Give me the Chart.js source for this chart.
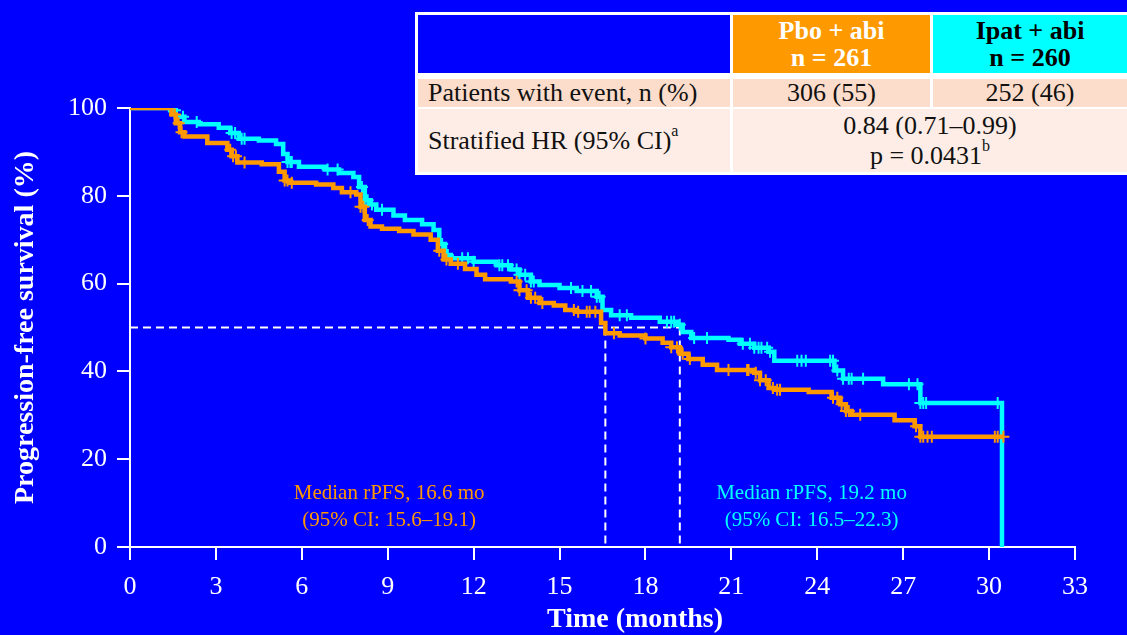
<!DOCTYPE html>
<html>
<head>
<meta charset="utf-8">
<script src="https://cdn.jsdelivr.net/npm/chart.js@4.4.1/dist/chart.umd.min.js"></script>
<style>
  html, body { margin: 0; padding: 0; background: #0000ff; width: 1127px; height: 635px; overflow: hidden; }
  #wrap { position: relative; width: 1127px; height: 635px; }
  #chart { position: absolute; left: 0; top: 0; }
  .frame { position: absolute; left: 415px; top: 12px; width: 712px; height: 163px; background: #fff; }
  .cell {
    position: absolute; box-sizing: border-box; display: flex; flex-direction: column; justify-content: center;
    font-family: 'Liberation Serif', 'Times New Roman', serif; color: #111; font-size: 26px; line-height: 30px;
    white-space: nowrap;
  }
  .head { font-weight: bold; font-size: 26px; text-align: center; line-height: 27px; }
  .mid { text-align: center; }
  .left { padding-left: 10px; }
  sup { font-size: 16px; line-height: 0; position: relative; top: -3px; }
</style>
</head>
<body>
<div id="wrap">
  <canvas id="chart" width="1127" height="635"></canvas>
  <div class="frame"></div>
  <div class="cell" style="left:418px;top:15px;width:312px;height:58px;background:#0000ff;"></div>
  <div class="cell head" style="left:733px;top:15px;width:197px;height:58px;background:#ff9900;color:#fff;">
    <div>Pbo + abi</div><div>n = 261</div>
  </div>
  <div class="cell head" style="left:933px;top:15px;width:194px;height:58px;background:#00ffff;color:#000;">
    <div>Ipat + abi</div><div>n = 260</div>
  </div>
  <div class="cell left" style="left:418px;top:79px;width:312px;height:28px;background:#fcdccb;">Patients with event, n (%)</div>
  <div class="cell mid" style="left:733px;top:79px;width:197px;height:28px;background:#fcdccb;">306 (55)</div>
  <div class="cell mid" style="left:933px;top:79px;width:194px;height:28px;background:#fcdccb;">252 (46)</div>
  <div class="cell left" style="left:418px;top:109px;width:312px;height:63px;background:#fdede6;">
    <div>Stratified HR (95% CI)<sup>a</sup></div>
  </div>
  <div class="cell mid" style="left:733px;top:109px;width:394px;height:63px;background:#fdede6;">
    <div>0.84 (0.71–0.99)</div><div>p = 0.0431<sup>b</sup></div>
  </div>
</div>
<script>
// Kaplan-Meier steps (months, % progression-free)
const pboTime = [0, 1.45, 1.6, 1.75, 1.9, 2.7, 3.4, 3.55, 3.75, 4.6, 5.2, 5.4, 5.6, 6.5, 7.1, 7.4, 7.9, 8.05, 8.2, 8.4, 8.8, 9.4, 9.9, 10.5, 10.75, 10.95, 11.2, 11.7, 12.1, 12.4, 13.3, 13.6, 13.9, 14.3, 14.8, 15.2, 15.6, 16.45, 16.6, 17.1, 18.0, 18.6, 18.9, 19.2, 19.5, 20.0, 20.5, 21.8, 22.0, 22.3, 22.5, 23.7, 24.5, 24.8, 25.0, 25.2, 26.7, 27.4, 27.6, 30.5];
const pboSurv = [100, 98.5, 96.5, 94.5, 93.5, 92, 90.5, 89, 87.6, 87.2, 85.5, 83.5, 83, 82.6, 81.8, 80.8, 80.3, 77.5, 74.5, 73, 72.5, 72, 71.2, 70, 67.5, 65.5, 64.5, 63.3, 62, 61, 60.5, 58.5, 56.8, 55.6, 55, 54, 53.6, 51, 48.7, 48.2, 47.5, 46.5, 45.5, 44, 42.8, 41.5, 40.3, 39.7, 38, 36.2, 35.8, 35.3, 34, 32.5, 31, 30.1, 28.9, 27.5, 25.1, 25.1];

const ipatTime = [0, 1.4, 1.6, 1.9, 2.4, 3.1, 3.5, 3.8, 4.5, 5.1, 5.35, 5.5, 5.9, 6.8, 7.3, 7.8, 8.0, 8.2, 8.4, 8.6, 9.2, 9.6, 10.2, 10.6, 10.8, 11.0, 11.2, 12.0, 12.8, 13.3, 13.6, 14.0, 14.3, 15.0, 15.6, 16.3, 16.5, 16.8, 17.5, 18.5, 19.1, 19.3, 19.6, 20.9, 21.3, 21.8, 22.3, 22.5, 24.6, 24.9, 26.3, 27.6, 30.45];
const ipatSurv = [100, 99.5, 98, 96.8, 96.3, 95.5, 94.3, 93, 92.6, 91.8, 89.5, 87.7, 86.6, 86, 85.2, 84.3, 82, 79, 78, 76.8, 75.5, 74.5, 73.5, 72.2, 69, 66.5, 65.8, 65, 64.2, 63.2, 62, 60.5, 59.7, 59, 58.3, 57, 54, 52.8, 52.2, 51.3, 50.6, 49, 47.6, 47.2, 46.3, 45.4, 44.5, 42.4, 40.2, 38.3, 37.1, 32.8, 0];

// censoring times (months)
const pboCensor = [1.57, 1.7, 1.8, 3.5, 3.6, 3.7, 4.0, 5.4, 5.5, 5.65, 7.7, 8.05, 8.15, 8.3, 10.8, 11.05, 11.45, 13.5, 13.6, 13.85, 14.0, 14.15, 14.4, 15.5, 15.65, 15.95, 16.05, 16.25, 16.9, 18.0, 18.9, 19.1, 19.3, 19.55, 20.9, 21.55, 21.6, 21.85, 22.0, 22.2, 22.45, 22.6, 22.7, 24.55, 24.7, 24.85, 25.0, 25.1, 25.5, 27.45, 27.6, 27.7, 27.85, 28.0, 30.2, 30.3, 30.5];
const ipatCensor = [1.57, 1.85, 2.33, 3.55, 3.67, 3.9, 4.0, 5.5, 5.6, 5.65, 6.9, 7.25, 8.1, 8.2, 8.3, 8.45, 8.8, 10.9, 11.1, 11.6, 11.8, 12.0, 12.9, 13.0, 13.2, 13.5, 13.6, 13.8, 14.0, 14.1, 15.4, 15.8, 16.1, 16.3, 16.4, 17.1, 17.35, 18.75, 18.9, 19.0, 19.2, 19.7, 20.15, 21.4, 21.65, 21.8, 21.95, 22.05, 22.25, 22.35, 23.3, 23.45, 23.6, 24.45, 24.55, 24.7, 24.9, 25.1, 25.2, 25.6, 27.2, 27.5, 27.6, 27.7, 27.8, 30.3];

const medianTimes = [16.6, 19.2];
const medianLevel = 50;
const medianText = [
  ['Median rPFS, 16.6 mo', '(95% CI: 15.6–19.1)'],
  ['Median rPFS, 19.2 mo', '(95% CI: 16.5–22.3)']
];

const xTickValues = [0, 3, 6, 9, 12, 15, 18, 21, 24, 27, 30, 33];
const yTickValues = [0, 20, 40, 60, 80, 100];

const ORANGE = '#ff9900';
const CYAN = '#00ffff';
const SERIF = "'Liberation Serif', 'Times New Roman', serif";

function toPoints(times, surv) {
  return times.map((t, i) => ({ x: t, y: surv[i] }));
}

// survival value at time t (step function)
function survAt(times, surv, t) {
  let v = surv[0];
  for (let i = 0; i < times.length; i++) {
    if (times[i] <= t) v = surv[i];
  }
  return v;
}

function censorPoints(censor, times, surv) {
  return censor.map(t => ({ x: t, y: survAt(times, surv, t) }));
}

const dashStyle = { borderColor: '#fff', borderWidth: 2, borderDash: [8, 5], pointRadius: 0, showLine: true, fill: false, order: 5 };

const annotations = {
  id: 'annotations',
  afterDatasetsDraw(chart) {
    const { ctx, scales: { x } } = chart;
    ctx.save();
    ctx.textAlign = 'center';
    ctx.textBaseline = 'middle';
    ctx.font = '21px ' + SERIF;
    const labelX = [9.05, 23.8];
    const colors = [ORANGE, CYAN];
    medianText.forEach((lines, i) => {
      ctx.fillStyle = colors[i];
      ctx.fillText(lines[0], x.getPixelForValue(labelX[i]), 493);
      ctx.fillText(lines[1], x.getPixelForValue(labelX[i]), 520);
    });
    // x axis title
    ctx.fillStyle = '#fff';
    ctx.font = 'bold 28px ' + SERIF;
    ctx.fillText('Time (months)', 635, 620);
    ctx.restore();
  }
};

new Chart(document.getElementById('chart'), {
  type: 'scatter',
  data: {
    datasets: [
      {
        label: 'Pbo + abi censored',
        data: censorPoints(pboCensor, pboTime, pboSurv),
        pointStyle: 'cross', pointRadius: 6, borderColor: ORANGE, borderWidth: 2, order: 1
      },
      {
        label: 'Pbo + abi',
        data: toPoints(pboTime, pboSurv),
        showLine: true, stepped: true, borderColor: ORANGE, borderWidth: 4.5, pointRadius: 0, order: 2
      },
      {
        label: 'Ipat + abi censored',
        data: censorPoints(ipatCensor, ipatTime, ipatSurv),
        pointStyle: 'cross', pointRadius: 6, borderColor: CYAN, borderWidth: 2, order: 3
      },
      {
        label: 'Ipat + abi',
        data: toPoints(ipatTime, ipatSurv),
        showLine: true, stepped: true, borderColor: CYAN, borderWidth: 4.5, pointRadius: 0, order: 4
      },
      { ...dashStyle, data: [{ x: 0, y: medianLevel }, { x: medianTimes[1], y: medianLevel }] },
      { ...dashStyle, data: [{ x: medianTimes[0], y: medianLevel }, { x: medianTimes[0], y: 0 }] },
      { ...dashStyle, data: [{ x: medianTimes[1], y: medianLevel }, { x: medianTimes[1], y: 0 }] }
    ]
  },
  options: {
    responsive: false,
    animation: false,
    layout: { padding: { left: 0, top: 108, right: 52, bottom: 0 } },
    plugins: { legend: { display: false }, tooltip: { enabled: false } },
    scales: {
      x: {
        type: 'linear', min: 0, max: 33,
        afterBuildTicks: s => { s.ticks = xTickValues.map(v => ({ value: v })); },
        afterFit: s => { s.height = 88; },
        grid: { drawOnChartArea: false, drawTicks: true, tickLength: 13, color: '#fff', lineWidth: 2 },
        border: { color: '#fff', width: 2 },
        ticks: { color: '#fff', padding: 12, font: { family: SERIF, size: 26 } }
      },
      y: {
        type: 'linear', min: 0, max: 100,
        afterBuildTicks: s => { s.ticks = yTickValues.map(v => ({ value: v })); },
        afterFit: s => { s.width = 130; },
        grid: { drawOnChartArea: false, drawTicks: true, tickLength: 13, color: '#fff', lineWidth: 2 },
        border: { color: '#fff', width: 2 },
        ticks: { color: '#fff', padding: 10, font: { family: SERIF, size: 26 } },
        title: {
          display: true, text: 'Progression-free survival (%)', color: '#fff',
          padding: { top: 9, bottom: 0 },
          font: { family: SERIF, size: 28, weight: 'bold' }
        }
      }
    }
  },
  plugins: [annotations]
});
</script>
</body>
</html>
